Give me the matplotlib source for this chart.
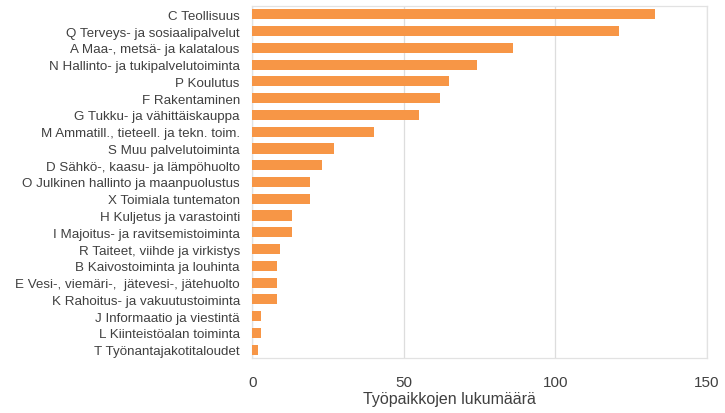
import numpy as np
import matplotlib.pyplot as plt

plt.rcParams['font.family'] = ['Liberation Sans', 'DejaVu Sans']

toimialat = ['C Teollisuus',
             'Q Terveys- ja sosiaalipalvelut',
             'A Maa-, metsä- ja kalatalous',
             'N Hallinto- ja tukipalvelutoiminta',
             'P Koulutus',
             'F Rakentaminen',
             'G Tukku- ja vähittäiskauppa',
             'M Ammatill., tieteell. ja tekn. toim.',
             'S Muu palvelutoiminta',
             'D Sähkö-, kaasu- ja lämpöhuolto',
             'O Julkinen hallinto ja maanpuolustus',
             'X Toimiala tuntematon',
             'H Kuljetus ja varastointi',
             'I Majoitus- ja ravitsemistoiminta',
             'R Taiteet, viihde ja virkistys',
             'B Kaivostoiminta ja louhinta',
             'E Vesi-, viemäri-,  jätevesi-, jätehuolto',
             'K Rahoitus- ja vakuutustoiminta',
             'J Informaatio ja viestintä',
             'L Kiinteistöalan toiminta',
             'T Työnantajakotitaloudet']
tyopaikat = [133, 121, 86, 74, 65, 62, 55, 40, 27, 23, 19, 19,
             13, 13, 9, 8, 8, 8, 3, 3, 2]

xticks = [0, 50, 100, 150]

fig = plt.figure(figsize=(7.25, 4.14), dpi=100)
ax = fig.add_axes([0.348, 0.133, 0.627, 0.850])

y = np.arange(len(toimialat))
ax.barh(y, tyopaikat, height=0.6, color='#F79646', zorder=3)

ax.set_yticks(y)
ax.set_yticklabels(toimialat, fontsize=9.6, color='#404040')
ax.set_ylim(len(toimialat) - 0.5, -0.5)

ax.set_xlim(0, 150)
ax.set_xticks(xticks)
ax.set_xticklabels([str(v) for v in xticks], fontsize=11, color='#404040')
ax.set_xlabel('Työpaikkojen lukumäärä', fontsize=11.5, color='#404040')
ax.xaxis.set_label_coords(0.433, -0.095)

ax.tick_params(axis='both', length=0)
ax.tick_params(axis='x', pad=12)
ax.tick_params(axis='y', pad=9)
ax.grid(axis='x', color='#DDDDDD', linewidth=0.9, zorder=0)
for s in ax.spines.values():
    s.set_color('#E2E2E2')
    s.set_linewidth(0.9)

plt.savefig('out.png', dpi=100)
